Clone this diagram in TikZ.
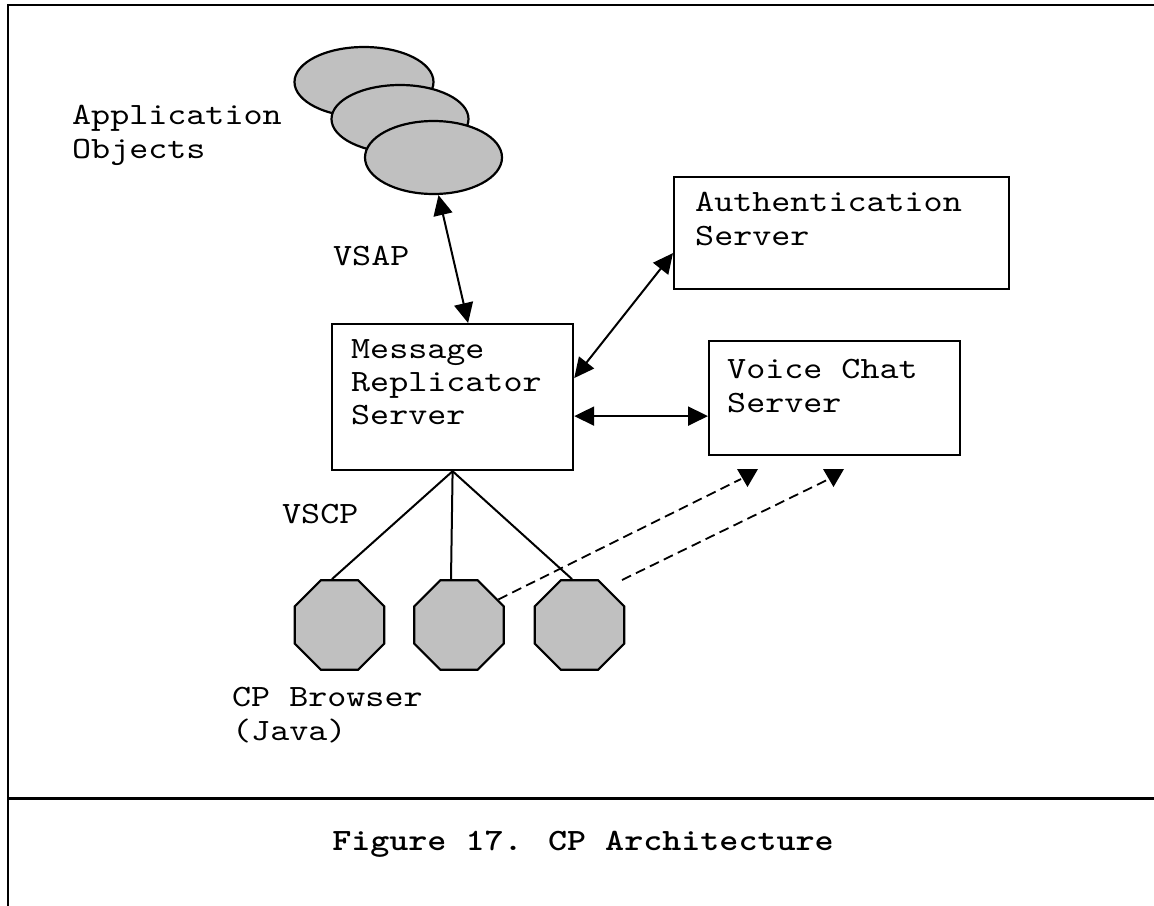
\documentclass[tikz,border=0pt]{standalone}
\usepackage{fontspec}
\newfontfamily\cour{lmmono10-regular.otf}[FakeStretch=1.17]
\newfontfamily\courb{lmmonolt10-bold.otf}[FakeStretch=1.17]
\usetikzlibrary{shapes.geometric,arrows.meta}
\definecolor{silver}{HTML}{C0C0C0}
\begin{document}
\begin{tikzpicture}[x=1pt,y=-1pt,
  txt/.style={font={\cour\fontsize{31pt}{33.3pt}\selectfont}, anchor=base west, align=left, inner sep=0pt},
  box/.style={draw, line width=2.2pt, rectangle, anchor=north west, inner sep=0pt},
  blob/.style={draw, ellipse, line width=2.2pt, fill=silver, inner sep=0pt},
  oct/.style={draw, regular polygon, regular polygon sides=8, minimum size=97pt, line width=2.2pt, fill=silver, inner sep=0pt},
  conn/.style={line width=2pt},
  dbl/.style={conn, {Triangle[length=20pt,width=19pt]}-{Triangle[length=20pt,width=19pt]}},
  dashconn/.style={line width=1.8pt, dash pattern=on 10pt off 5.5pt},
  frame/.style={line width=2.2pt}
  ]
\useasboundingbox (0,0) rectangle (1154,905);
% frame
\draw[frame] (1160,5) -- (8,5) -- (8,910);
\draw[line width=3pt] (8,798) -- (1160,798);

% application objects
\node[blob, minimum width=139pt, minimum height=70pt] (e1) at (364,82) {};
\node[blob, minimum width=137pt, minimum height=68pt] (e2) at (400,119) {};
\node[blob, minimum width=137pt, minimum height=73pt] (e3) at (433.5,157.5) {};
\node[txt] (appT) at (72,158) {Application\\Objects};

% boxes
\node[box, minimum width=335pt, minimum height=112pt] (auth) at (673,176) {};
\node[txt] (authT) at (695,245) {Authentication\\Server};
\node[box, minimum width=241pt, minimum height=146pt] (mrs) at (331,323) {};
\node[txt] (mrsT) at (351,424.6) {Message\\Replicator\\Server};
\node[box, minimum width=251pt, minimum height=114pt] (voice) at (708,340) {};
\node[txt] (voiceT) at (727,412) {Voice Chat\\Server};

% labels
\node[txt] (vsap) at (333,265) {VSAP};
\node[txt] (vscp) at (282,523) {VSCP};

% browsers
\node[oct] (o1) at (339.5,625) {};
\node[oct] (o2) at (459,625) {};
\node[oct] (o3) at (579.5,625) {};
\node[txt] (cpT) at (232,740) {CP Browser\\(Java)};

% connectors
\draw[dbl] ([xshift=5pt]e3.south) -- ([xshift=15.5pt]mrs.north);
\draw[dbl] ([yshift=19pt]mrs.east) -- ([yshift=-20pt]auth.west);
\draw[dbl] ([yshift=-19pt]mrs.east) -- ([yshift=-18pt]voice.west);
\draw[conn] (mrs.south) -- ([xshift=-7.5pt]o1.north);
\draw[conn] (mrs.south) -- ([xshift=-8pt]o2.north);
\draw[conn] (mrs.south) -- ([xshift=-7.5pt]o3.north);

% dashed links to voice chat
\coordinate (d1e) at (741,479);
\coordinate (t1) at (747.5,487);
\coordinate (d2s) at (622,580);
\coordinate (d2e) at (827,480);
\coordinate (t2) at (833.5,487);
\draw[dashconn] (o2.33) -- (d1e);
\draw[dashconn] (d2s) -- (d2e);
\fill (t1) -- ++(-10.5,-18) -- ++(21,0) -- cycle;
\fill (t2) -- ++(-10.5,-18) -- ++(21,0) -- cycle;

% caption
\node[font={\courb\fontsize{31pt}{33.3pt}\selectfont}, anchor=base, inner sep=0pt] (cap) at (583,850) {Figure 17. CP Architecture};
\end{tikzpicture}
\end{document}
